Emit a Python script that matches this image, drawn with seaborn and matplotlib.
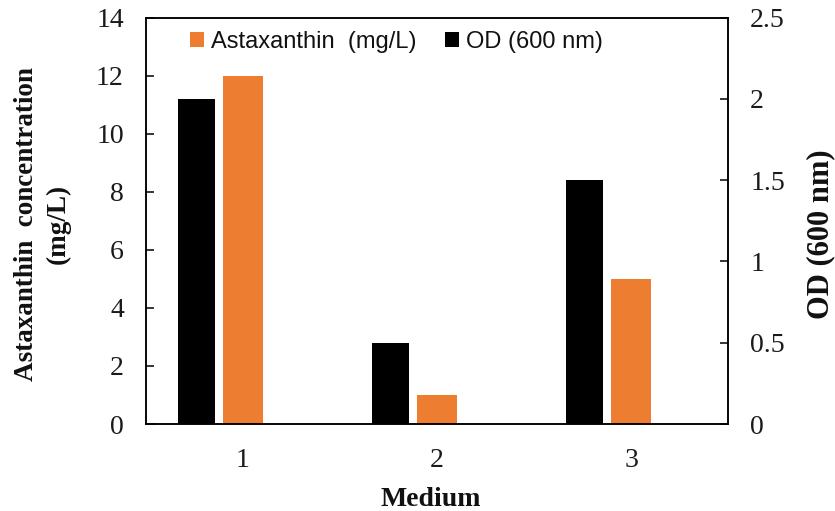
import matplotlib
matplotlib.use("Agg")
import matplotlib.pyplot as plt
import seaborn as sns
import pandas as pd
from matplotlib.patches import Patch

# ---- data ----
media = [1, 2, 3]
astaxanthin = [12, 1, 5]          # mg/L (left axis)
od = [2.0, 0.5, 1.5]              # OD 600 nm (right axis)
left_ticks = [0, 2, 4, 6, 8, 10, 12, 14]
right_ticks = [0, 0.5, 1, 1.5, 2, 2.5]
right_tick_labels = ["0", "0.5", "1", "1.5", "2", "2.5"]

ORANGE = "#ED7D31"
BLACK = "#000000"

sns.set_theme(style="white")
plt.rcParams['font.family'] = ['Liberation Serif', 'DejaVu Serif']

W, H = 835, 511
fig = plt.figure(figsize=(W / 100, H / 100), dpi=100)
L, R, T, B = 146, 728, 17.7, 424
ax = fig.add_axes([L / W, 1 - B / H, (R - L) / W, (B - T) / H])
ax2 = ax.twinx()

df_a = pd.DataFrame({"x": media, "y": astaxanthin})
df_o = pd.DataFrame({"x": [m - 0.24 for m in media], "y": od})

sns.barplot(data=df_a, x="x", y="y", ax=ax, native_scale=True, width=0.205,
            color=ORANGE, saturation=1, linewidth=0, errorbar=None)
sns.barplot(data=df_o, x="x", y="y", ax=ax2, native_scale=True, width=0.195,
            color=BLACK, saturation=1, linewidth=0, errorbar=None)

ax.set_xlim(0.5, 3.5)
ax.set_ylim(0, 14)
ax2.set_ylim(0, 2.5)
ax.set_xticks(media)
ax.set_xticklabels([str(m) for m in media])
ax.set_yticks(left_ticks)
ax.set_yticklabels([str(t) for t in left_ticks])
ax2.set_yticks(right_ticks)
ax2.set_yticklabels(right_tick_labels)

for a in (ax, ax2):
    a.set_xlabel("")
    a.set_ylabel("")
    for s in a.spines.values():
        s.set_visible(True)
        s.set_color(BLACK)
        s.set_linewidth(1.1)
    a.grid(False)

TICK_FS = 20
ax.tick_params(axis='y', direction='in', length=6, width=1.1, colors=BLACK,
               labelsize=TICK_FS, pad=16, left=True, labelcolor='#1a1a1a')
ax.tick_params(axis='x', length=0, labelsize=TICK_FS, pad=17, labelcolor='#1a1a1a')
ax2.tick_params(axis='y', direction='in', length=6, width=1.1, colors=BLACK,
                labelsize=TICK_FS, pad=16, right=True, labelcolor='#1a1a1a')

fig.text(42 / W, 1 - 224 / H, "Astaxanthin  concentration\n(mg/L)", rotation=90,
         ha='center', va='center', fontsize=19.5, fontweight='bold',
         multialignment='center', linespacing=1.35, color='#111111')
fig.text(821 / W, 1 - 234 / H, "OD (600 nm)", rotation=90,
         ha='center', va='center', fontsize=22, fontweight='bold', color='#111111')
fig.text(431 / W, 1 - 500 / H, "Medium", ha='center', va='center',
         fontsize=20, fontweight='bold', color='#111111')

handles = [Patch(facecolor=ORANGE, edgecolor='none', label="Astaxanthin  (mg/L)"),
           Patch(facecolor=BLACK, edgecolor='none', label="OD (600 nm)")]
leg = ax2.legend(handles=handles, loc='upper center', bbox_to_anchor=(0.43, 1.02),
                 ncol=2, frameon=False, handlelength=0.6, handleheight=0.6,
                 handletextpad=0.3, columnspacing=1.2,
                 prop={'family': ['Liberation Sans', 'DejaVu Sans'], 'size': 17})
for t in leg.get_texts():
    t.set_color('#111111')

fig.savefig("out.png", dpi=100, facecolor='white')
